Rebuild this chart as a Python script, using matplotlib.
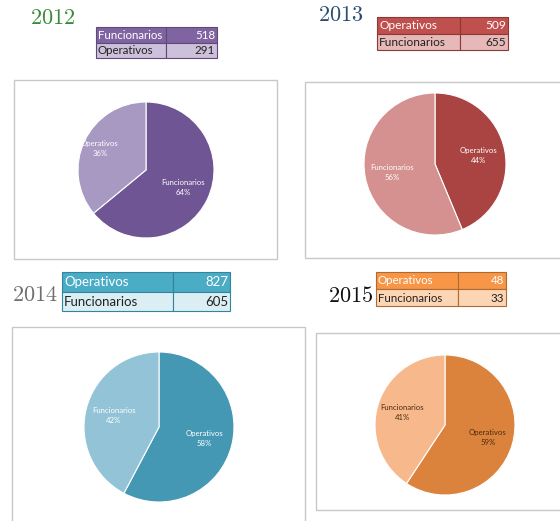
import matplotlib
matplotlib.use("Agg")
from matplotlib import pyplot as plt
from matplotlib.patches import Rectangle
import numpy as np

plt.rcParams["mathtext.fontset"] = "cm"

years = ["2012", "2013", "2014", "2015"]
labels_2012 = ["Funcionarios", "Operativos"]
values_2012 = [518, 291]
labels_2013 = ["Operativos", "Funcionarios"]
values_2013 = [509, 655]
labels_2014 = ["Operativos", "Funcionarios"]
values_2014 = [827, 605]
labels_2015 = ["Operativos", "Funcionarios"]
values_2015 = [48, 33]

all_labels = [labels_2012, labels_2013, labels_2014, labels_2015]
all_values = [values_2012, values_2013, values_2014, values_2015]

# look of each panel (pixels, top-left origin)
style = [
    dict(year_xy=(30, 18), year_col="#3b8a3b",
         tab=(96, 166, 217, 27, 15.5), tab_fs=8.3,
         head="#8064a2", row="#ccc0da", edge="#5f497a",
         box=(14, 80, 277, 259), pie=(146, 170, 68),
         cols=["#6f5593", "#a899c2"], txt="white", ld=[0.6, 0.75]),
    dict(year_xy=(318, 15), year_col="#2e4d6e",
         tab=(377, 460, 508, 17, 16.5), tab_fs=8.6,
         head="#c0504d", row="#e6b9b8", edge="#8c3836",
         box=(305, 82, 562, 258), pie=(435, 164, 71),
         cols=["#a94442", "#d49190"], txt="white", ld=[0.62, 0.62]),
    dict(year_xy=(12, 295), year_col="#707070",
         tab=(62, 173, 230, 272, 19.5), tab_fs=9.5,
         head="#4bacc6", row="#daeef3", edge="#31859c",
         box=(12, 327, 305, 525), pie=(159, 427, 75),
         cols=["#4498b3", "#93c3d6"], txt="white", ld=[0.62, 0.62]),
    dict(year_xy=(328, 296), year_col="#111111",
         tab=(376, 458, 506, 272, 17), tab_fs=8.3,
         head="#f79646", row="#fcd5b4", edge="#b06a30",
         box=(316, 333, 562, 510), pie=(445, 425, 70),
         cols=["#db823d", "#f7b98c"], txt="#4a2c10", ld=[0.64, 0.64]),
]

W, H = 560, 521
fig = plt.figure(figsize=(W / 100, H / 100), dpi=100)
bg = fig.add_axes([0, 0, 1, 1])
bg.set_xlim(0, W)
bg.set_ylim(H, 0)
bg.axis("off")

for year, labels, values, s in zip(years, all_labels, all_values, style):
    # year title
    bg.text(s["year_xy"][0], s["year_xy"][1], "$" + year + "$", fontsize=16,
            color=s["year_col"], ha="left", va="center")

    # small table
    x0, x1, x2, y0, h = s["tab"]
    for i, (lab, val) in enumerate(zip(labels, values)):
        fc = s["head"] if i == 0 else s["row"]
        tc = "white" if i == 0 else "#222222"
        yy = y0 + i * h
        bg.add_patch(Rectangle((x0, yy), x1 - x0, h, facecolor=fc,
                               edgecolor=s["edge"], lw=0.8))
        bg.add_patch(Rectangle((x1, yy), x2 - x1, h, facecolor=fc,
                               edgecolor=s["edge"], lw=0.8))
        bg.text(x0 + 2, yy + h / 2 + 0.5, lab, fontsize=s["tab_fs"], color=tc,
                family="Lato", ha="left", va="center")
        bg.text(x2 - 2, yy + h / 2 + 0.5, str(val), fontsize=s["tab_fs"],
                color=tc, family="Lato", ha="right", va="center")

    # chart frame
    bx0, by0, bx1, by1 = s["box"]
    bg.add_patch(Rectangle((bx0, by0), bx1 - bx0, by1 - by0, facecolor="white",
                           edgecolor="#c8c8c8", lw=1))

    # pie
    cx, cy, r = s["pie"]
    ax = fig.add_axes([(cx - r) / W, (H - cy - r) / H, 2 * r / W, 2 * r / H])
    wedges, _ = ax.pie(values, colors=s["cols"], startangle=90,
                       counterclock=False, radius=1,
                       wedgeprops=dict(edgecolor="white", linewidth=0.8))
    total = float(sum(values))
    for w, lab, val, d in zip(wedges, labels, values, s["ld"]):
        mid = np.deg2rad((w.theta1 + w.theta2) / 2)
        ax.text(d * np.cos(mid), d * np.sin(mid),
                f"{lab}\n{100 * val / total:.0f}%", fontsize=5.6,
                color=s["txt"], ha="center", va="center", linespacing=1.5,
                family="Lato")
    ax.set_xlim(-1, 1)
    ax.set_ylim(-1, 1)
    ax.set_aspect("equal")

fig.savefig("out.png", dpi=100)
